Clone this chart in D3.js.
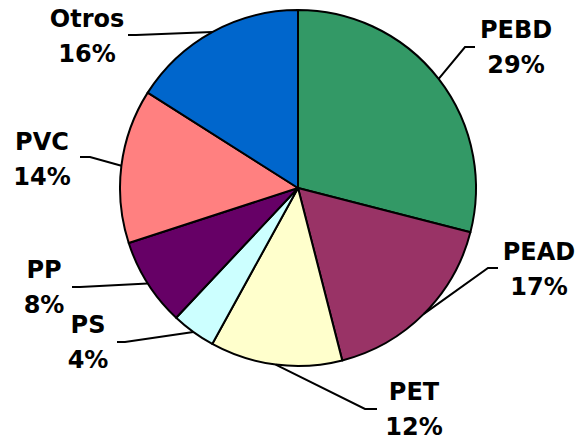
<!DOCTYPE html>
<html><head><meta charset="utf-8">
<script src="https://cdn.jsdelivr.net/npm/d3@7"></script>
<style>html,body{margin:0;padding:0;background:#fff;}</style>
</head><body>
<svg id="chart" width="576" height="440"></svg>
<script>
const categories = ["PEBD","PEAD","PET","PS","PP","PVC","Otros"];
const values = [29,17,12,4,8,14,16];
const colors = ["#339966","#993366","#FFFFCC","#CCFFFF","#660066","#FF8080","#0066CC"];

// label layout: text center x, first baseline y, leader elbow & end
const labelLayout = [
  {x:516, y:38,  elbow:[465,47],  end:[475,47]},
  {x:539, y:260, elbow:[488,268], end:[498,268]},
  {x:414, y:400, elbow:[365,409], end:[377,409]},
  {x:88,  y:333, elbow:[125,342], end:[117,342]},
  {x:44,  y:278, elbow:[80,287],  end:[72,287]},
  {x:42,  y:150, elbow:[90,157],  end:[80,157]},
  {x:87,  y:27,  elbow:[136,35],  end:[128,35]}
];

const svg = d3.select("#chart");
const cx = 298, cy = 188, r = 178;
const g = svg.append("g").attr("transform", `translate(${cx},${cy})`);
const data = categories.map((c,i)=>({cat:c, val:values[i], color:colors[i], lay:labelLayout[i]}));
const pie = d3.pie().sort(null).value(d=>d.val).startAngle(0).endAngle(2*Math.PI);
const arc = d3.arc().innerRadius(0).outerRadius(r);
const arcs = pie(data);

g.selectAll("path.slice").data(arcs).enter().append("path")
  .attr("class","slice")
  .attr("d", arc)
  .attr("fill", d=>d.data.color)
  .attr("stroke","#000")
  .attr("stroke-width",2)
  .attr("stroke-linejoin","round");

const total = d3.sum(values);
arcs.forEach(a=>{
  const mid = (a.startAngle+a.endAngle)/2;
  const ex = cx + r*Math.sin(mid), ey = cy - r*Math.cos(mid);
  const L = a.data.lay;
  svg.append("polyline")
    .attr("points", `${ex},${ey} ${L.elbow[0]},${L.elbow[1]} ${L.end[0]},${L.end[1]}`)
    .attr("fill","none").attr("stroke","#000").attr("stroke-width",2);
  const t = svg.append("text")
    .attr("text-anchor","middle")
    .attr("font-family","'DejaVu Sans', Verdana, sans-serif")
    .attr("font-weight","bold")
    .attr("font-size","24px")
    .attr("fill","#000");
  t.append("tspan").attr("x",L.x).attr("y",L.y).text(a.data.cat);
  t.append("tspan").attr("x",L.x).attr("y",L.y+35).text(Math.round(a.data.val/total*100)+"%");
});
</script>
</body></html>
